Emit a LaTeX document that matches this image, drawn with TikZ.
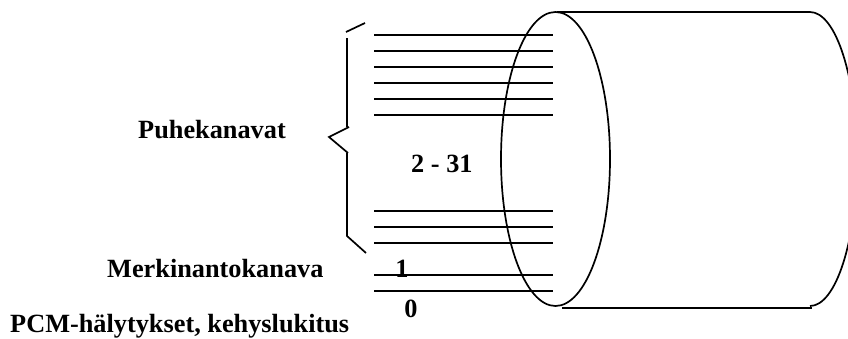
\documentclass[tikz,border=0pt]{standalone}
\usepackage{fontspec}
\setmainfont{Liberation Serif}
\begin{document}
\begin{tikzpicture}[x=1pt,y=-1pt,
  wire/.style={line width=1.9pt},
  outline/.style={line width=1.7pt},
  lbl/.style={inner sep=0pt,font=\fontsize{26.3}{30}\selectfont\bfseries}]
\useasboundingbox (0,0) rectangle (848,338);
\clip (0,0) rectangle (848,338);
% channel wires
\foreach \y in {35,51,67,83,99,115,211,227,243,275,291}
  \draw[wire] (374,\y) -- (553,\y);
% brace
\draw[outline] (346,32) -- (365,23);
\draw[outline] (347,38) -- (347,127);
\draw[outline] (349,127) -- (329,137) -- (348,153);
\draw[outline] (347,153) -- (347,236) -- (366,253);
% cylinder
\draw[outline] (555.5,159) ellipse [x radius=54.5pt, y radius=147pt];
\draw[outline] (557,12) -- (810,12);
\draw[outline] (562,308) -- (812,308);
\draw[outline] (810,12) arc [start angle=90, end angle=-90, x radius=47pt, y radius=147pt];
% labels
\node[lbl,anchor=base west] (puhe) at (138,138) {Puhekanavat};
\node[lbl,anchor=base west] (range) at (411,172) {2 - 31};
\node[lbl,anchor=base west] (merk) at (107,277) {Merkinantokanava};
\node[lbl,anchor=base] (one) at (402,277) {1};
\node[lbl,anchor=base] (zero) at (411,317) {0};
\node[lbl,anchor=base west] (pcm) at (10,332) {PCM-hälytykset, kehyslukitus};
\end{tikzpicture}
\end{document}
